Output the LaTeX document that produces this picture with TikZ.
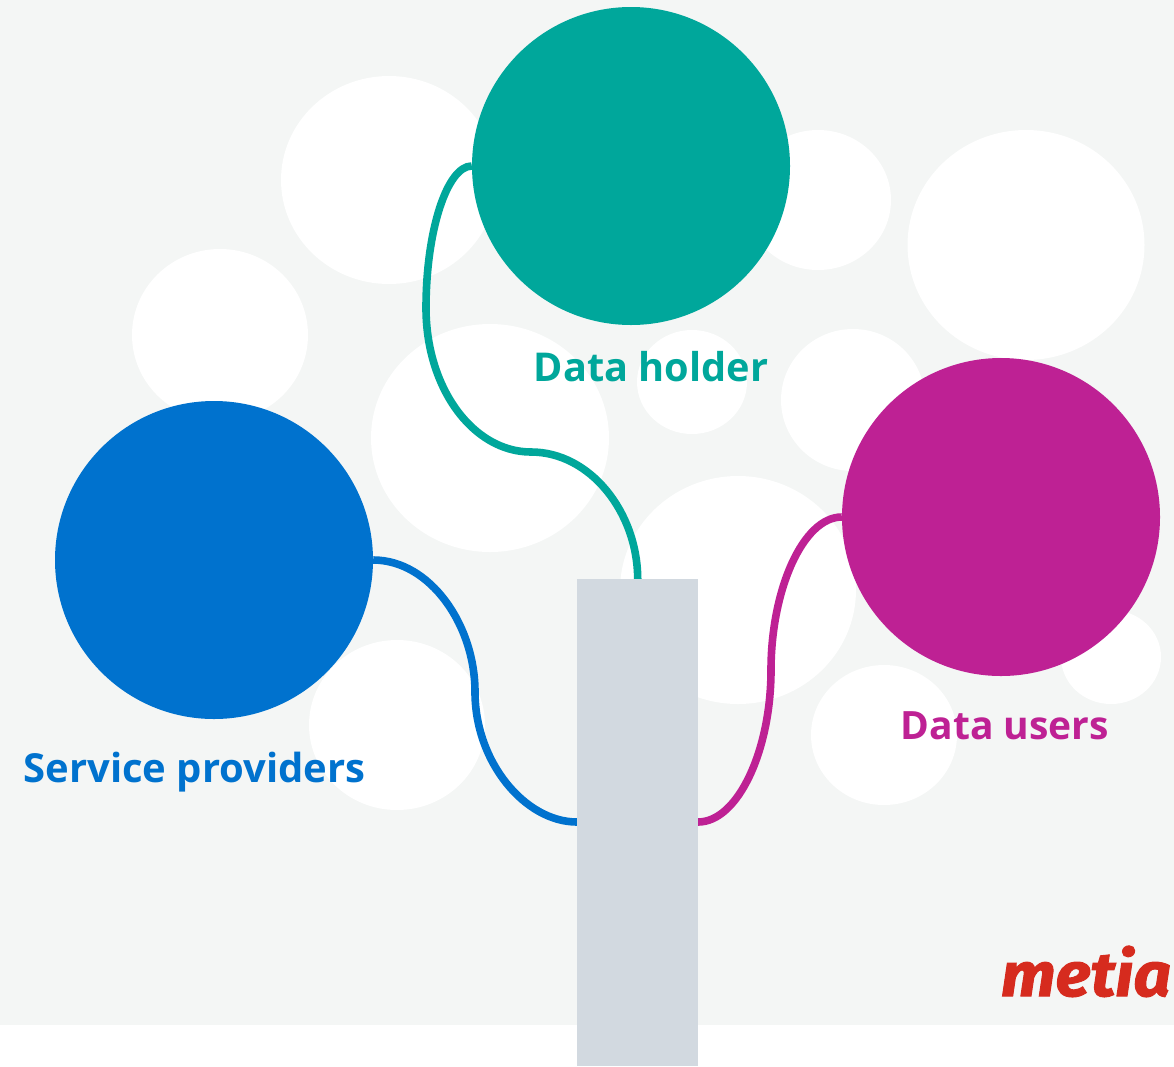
\documentclass[tikz,border=0pt]{standalone}
\usepackage{fontspec}
\setmainfont{Open Sans}
\newfontfamily\logofont[FakeStretch=1.06,FakeBold=1.6]{Fira Sans}
\usetikzlibrary{shapes.geometric}
\definecolor{bgc}{HTML}{F4F6F5}
\definecolor{teal1}{HTML}{00A79B}
\definecolor{blue1}{HTML}{0072CE}
\definecolor{mag1}{HTML}{BE2194}
\definecolor{trunkc}{HTML}{D2D9E0}
\definecolor{logoc}{HTML}{D62B1E}
\pgfdeclarelayer{blobs}
\pgfdeclarelayer{links}
\pgfsetlayers{blobs,links,main}
\tikzset{
  x=1pt,y=-1pt,
  blob/.style 2 args={ellipse,fill=white,draw=none,inner sep=0pt,minimum width=#1,minimum height=#2},
  hub/.style={circle,fill=#1,draw=none,inner sep=0pt,minimum size=318pt},
  link/.style={line width=7.6pt,draw=#1},
  lab/.style={text=#1,inner sep=0pt,anchor=base},
  big/.style={font=\fontsize{#1}{#1}\selectfont\bfseries},
}
\begin{document}
\begin{tikzpicture}
\useasboundingbox (0,0) rectangle (1174,1066);
\begin{pgfonlayer}{blobs}
\fill[bgc] (0,0) rectangle (1174,1025);
\node[blob={216pt}{208pt}] (b1) at (389,180) {};
\node[blob={176pt}{172pt}] (b2) at (220,335) {};
\node[blob={238pt}{228pt}] (b3) at (490,438) {};
\node[blob={110pt}{104pt}] (b4) at (692,382) {};
\node[blob={146pt}{140pt}] (b5) at (818,200) {};
\node[blob={237pt}{230pt}] (b6) at (1026,245) {};
\node[blob={144pt}{142pt}] (b7) at (853,400) {};
\node[blob={236pt}{228pt}] (b8) at (738,590) {};
\node[blob={176pt}{170pt}] (b9) at (397,725) {};
\node[blob={146pt}{140pt}] (b10) at (884,735) {};
\node[blob={100pt}{94pt}] (b11) at (1111,657) {};
\end{pgfonlayer}
\node[hub=teal1] (dh) at (631,166) {};
\node[hub=blue1] (sp) at (214,560) {};
\node[hub=mag1] (du) at (1001,517) {};
\node[fill=trunkc,inner sep=0pt,minimum width=121pt,minimum height=487pt,anchor=north west] (trunk) at (577,579) {};
\coordinate (tl) at (577,822);
\coordinate (tr) at (698,822);
\coordinate (tm1) at (426,308);
\coordinate (tm2) at (531,452);
\coordinate (bm) at (475,692);
\coordinate (mm) at (771,670);
\begin{pgfonlayer}{links}
\draw[link=teal1] (dh.west) .. controls (447,166) and (426,231) .. (tm1)
  .. controls (426,388) and (473,452) .. (tm2)
  .. controls (590,452) and (637.5,512) .. (trunk.north);
\draw[link=blue1] (sp.east) .. controls (430,560) and (475,625) .. (bm)
  .. controls (475,762) and (525,822) .. (tl);
\draw[link=mag1] (du.west) .. controls (803,517) and (771,590) .. (mm)
  .. controls (771,750) and (738,822) .. (tr);
\end{pgfonlayer}
\node[lab=teal1,big=39.7] (l1) at (651,381) {Data holder};
\node[lab=blue1,big=40] (l2) at (194.5,782) {Service providers};
\node[lab=mag1,big=39] (l3) at (1005,739) {Data users};
\node[text=logoc,inner sep=0pt,anchor=base,font=\fontsize{62}{62}\selectfont\logofont\bfseries\itshape] (logo) at (1086,996) {metia};
\end{tikzpicture}
\end{document}
